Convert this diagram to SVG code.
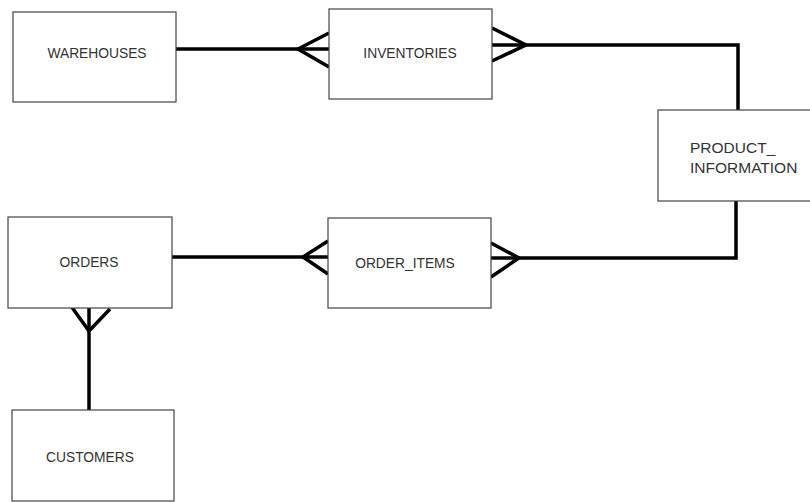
<svg xmlns="http://www.w3.org/2000/svg" width="810" height="502" viewBox="0 0 810 502">
<style>
.box{fill:#fff;stroke:#444;stroke-width:1.2}
.lbl{font-family:"Liberation Sans",Arial,sans-serif;font-size:13.8px;fill:#333;text-anchor:middle;dominant-baseline:central}
.lblL{font-family:"Liberation Sans",Arial,sans-serif;font-size:15.5px;fill:#333;dominant-baseline:central}
.c{fill:none;stroke:#000;stroke-width:3.5;stroke-linejoin:miter;stroke-linecap:butt}
</style>
<rect width="810" height="502" fill="#fff"/>
<g id="connectors">
<path class="c" d="M176,49 H329"/>
<path class="c" d="M329,33 L298,49 L329,67"/>
<path class="c" d="M492,28 L526,45 L492,61"/>
<path class="c" d="M492,45 H738 V110"/>
<path class="c" d="M736,201 V258 H491"/>
<path class="c" d="M491,243 L519,258 L491,277"/>
<path class="c" d="M172,257 H328"/>
<path class="c" d="M328,241 L303,257 L328,274"/>
<path class="c" d="M89,307 V410"/>
<path class="c" d="M71,306 L89,331 L110,309"/>
</g>
<g id="warehouses"><rect class="box" x="13" y="12" width="163" height="90"/><text class="lbl" x="97" y="53">WAREHOUSES</text></g>
<g id="inventories"><rect class="box" x="329" y="9" width="163" height="90"/><text class="lbl" x="410" y="53">INVENTORIES</text></g>
<g id="product_information"><rect class="box" x="658" y="110" width="160" height="91"/><text class="lblL" x="690" y="147">PRODUCT_</text><text class="lblL" x="690" y="167">INFORMATION</text></g>
<g id="orders"><rect class="box" x="8" y="217" width="164" height="91"/><text class="lbl" x="89" y="262">ORDERS</text></g>
<g id="order_items"><rect class="box" x="328" y="218" width="163" height="90"/><text class="lbl" x="405" y="263">ORDER_ITEMS</text></g>
<g id="customers"><rect class="box" x="12" y="410" width="162" height="91"/><text class="lbl" x="90" y="457">CUSTOMERS</text></g>
</svg>
